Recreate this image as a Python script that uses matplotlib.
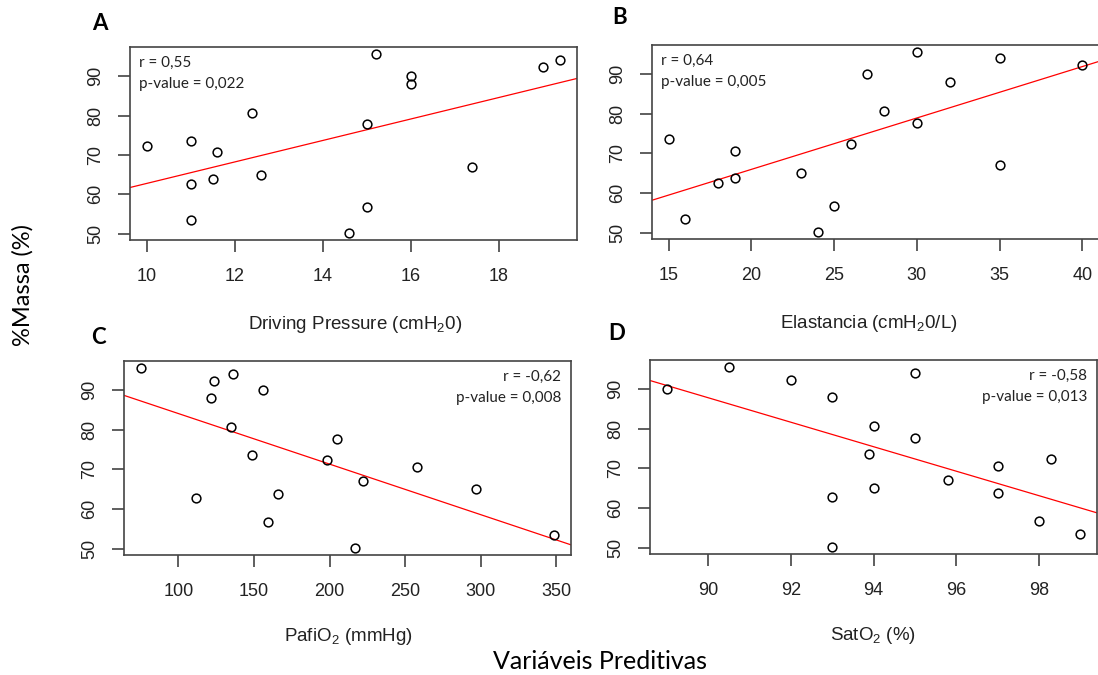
import matplotlib
matplotlib.use("Agg")
import matplotlib.pyplot as plt
import numpy as np

# %Massa (y) against each predictive variable (x)
driving_x = [10, 11, 11, 11, 11.5, 11.6, 12.4, 12.6, 14.6, 15, 15, 15.2, 16, 16, 17.4, 19, 19.4]
driving_y = [72.3, 73.6, 62.7, 53.4, 63.9, 70.7, 80.7, 65.0, 50.2, 77.8, 56.8, 95.6, 90.0, 88.0, 67.0, 92.3, 94.2]

elast_x = [15, 16, 18, 19, 19, 23, 24, 25, 26, 27, 28, 30, 30, 32, 35, 35, 40]
elast_y = [73.6, 53.5, 62.6, 70.7, 63.9, 65.0, 50.2, 56.8, 72.3, 90.0, 80.7, 95.6, 77.8, 88.0, 94.2, 67.0, 92.3]

pafi_x = [74.9, 136, 123.8, 121.6, 155.7, 135, 148.9, 111.7, 165.9, 159, 204.8, 198.2, 222, 216.7, 257.5, 296.5, 348.7]
pafi_y = [95.6, 94.2, 92.3, 88.0, 90.0, 80.7, 73.6, 62.7, 63.9, 56.8, 77.8, 72.3, 67.0, 50.2, 70.7, 65.0, 53.4]

sat_x = [89.0, 90.5, 92.0, 93.0, 93.0, 93.0, 94.0, 93.9, 94.0, 95.0, 95.0, 95.8, 97.0, 97.0, 98.3, 98.0, 99.0]
sat_y = [90.0, 95.6, 92.3, 88.0, 62.7, 50.2, 80.7, 73.6, 65.0, 94.2, 77.8, 67.0, 70.7, 63.9, 72.3, 56.8, 53.4]

panel_letters = ["A", "B", "C", "D"]
x_labels = [
    r"Driving Pressure (cmH$_\mathregular{2}$0)",
    r"Elastancia (cmH$_\mathregular{2}$0/L)",
    r"PafiO$_\mathregular{2}$ (mmHg)",
    r"SatO$_\mathregular{2}$ (%)",
]
r_text = ["r = 0,55", "r = 0,64", "r = -0,62", "r = -0,58"]
p_text = ["p-value = 0,022", "p-value = 0,005", "p-value = 0,008", "p-value = 0,013"]
x_ticks = [np.arange(10, 19, 2), np.arange(15, 41, 5), np.arange(100, 351, 50), np.arange(90, 99, 2)]
y_ticks = [50, 60, 70, 80, 90]

W, H = 1098, 675
TICK_FONT = "Liberation Sans"
TEXT_FONT = "Lato"


def fx(px: float) -> float:
    return px / W


def fy(py: float) -> float:
    return 1 - py / H


def r_range(vals) -> tuple[float, float]:
    # same 4% padding R uses for plot()
    lo, hi = min(vals), max(vals)
    pad = 0.04 * (hi - lo)
    return lo - pad, hi + pad


def draw_panel(fig, box, xs, ys, idx, letter_pos, xlabel_pos, stats_right):
    left, top, right, bottom = box
    ax = fig.add_axes([fx(left), fy(bottom), fx(right - left), (bottom - top) / H])
    ax.plot(xs, ys, "o", mfc="none", mec="black", ms=6.3, mew=1.1, zorder=3)

    xlim = r_range(xs)
    ylim = r_range(ys)
    slope, icpt = np.polyfit(xs, ys, 1)
    xx = np.array(xlim)
    ax.plot(xx, icpt + slope * xx, color="red", lw=0.9, zorder=2)
    ax.set_xlim(xlim)
    ax.set_ylim(ylim)

    ax.set_xticks(x_ticks[idx])
    ax.set_yticks(y_ticks)
    ax.tick_params(direction="out", length=8.5, width=1.1, color="#333333",
                   labelsize=13, labelcolor="#222222", pad=12)
    ax.tick_params(axis="y", labelrotation=90, pad=10)
    for lab in ax.get_xticklabels() + ax.get_yticklabels():
        lab.set_fontfamily(TICK_FONT)
    for lab in ax.get_yticklabels():
        lab.set_va("center")
    for sp in ax.spines.values():
        sp.set_color("#444444")
        sp.set_linewidth(1.2)

    if stats_right:
        tx, ha = 1 - 10 / (right - left), "right"
    else:
        tx, ha = 9 / (right - left), "left"
    ax.text(tx, 1 - 16 / (bottom - top), r_text[idx], transform=ax.transAxes, ha=ha, va="center",
            fontsize=11, family=TEXT_FONT, color="#222222")
    ax.text(tx, 1 - 37 / (bottom - top), p_text[idx], transform=ax.transAxes, ha=ha, va="center",
            fontsize=11, family=TEXT_FONT, color="#222222")

    fig.text(fx(letter_pos[0]), fy(letter_pos[1]), panel_letters[idx], ha="center", va="center",
             fontsize=16, fontweight="bold", family=TEXT_FONT, color="black")
    fig.text(fx(xlabel_pos[0]), fy(xlabel_pos[1]), x_labels[idx], ha="center", va="baseline",
             fontsize=13.5, family=TICK_FONT, color="#222222")
    return ax


fig = plt.figure(figsize=(W / 100, H / 100), dpi=100)

draw_panel(fig, (130, 47, 577, 240), driving_x, driving_y, 0, (100, 23), (355, 329), False)
draw_panel(fig, (652, 45, 1099, 239), elast_x, elast_y, 1, (620, 18), (869, 328), False)
draw_panel(fig, (124, 361, 571, 555), pafi_x, pafi_y, 2, (98, 337), (348, 641), True)
draw_panel(fig, (650, 360, 1097, 554), sat_x, sat_y, 3, (617, 334), (873, 640), True)

fig.text(fx(23), fy(285), "%Massa (%)", rotation=90, ha="center", va="center",
         fontsize=17, family=TEXT_FONT, color="black")
fig.text(fx(600), fy(669), "Variáveis Preditivas", ha="center", va="baseline",
         fontsize=18, family=TEXT_FONT, color="black")

fig.savefig("out.png", dpi=100)
